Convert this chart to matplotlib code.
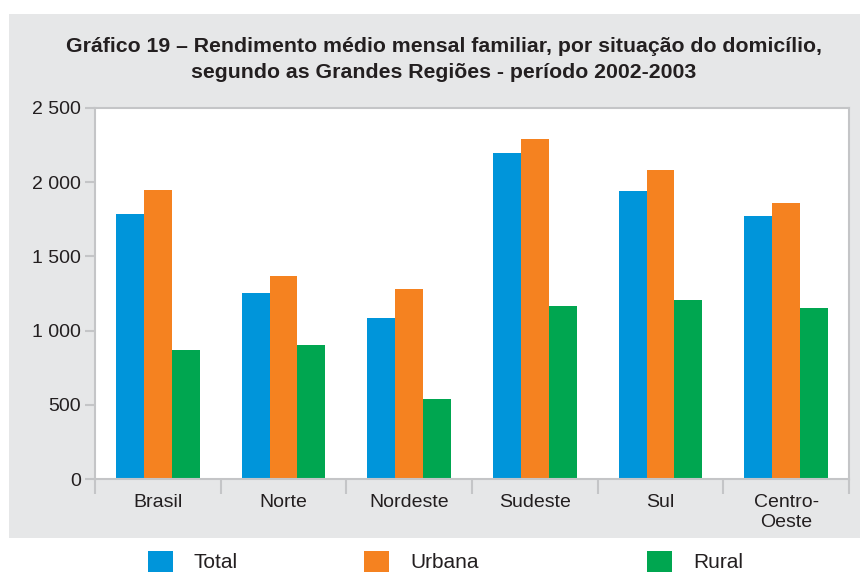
import matplotlib
matplotlib.use("Agg")
import matplotlib.pyplot as plt
import numpy as np
from matplotlib.patches import Rectangle
from matplotlib.ticker import FuncFormatter, FixedLocator


REGIONS = ["Brasil", "Norte", "Nordeste", "Sudeste", "Sul", "Centro-\nOeste"]
TOTAL = [1787, 1254, 1086, 2199, 1942, 1774]
URBANA = [1949, 1369, 1281, 2293, 2084, 1861]
RURAL = [870, 904, 540, 1167, 1207, 1153]
SERIES = ["Total", "Urbana", "Rural"]
COLORS = ["#0095DA", "#F58220", "#00A650"]

TEXT = "#231F20"
FRAME = "#C4C5C7"
PANEL = "#E6E7E8"

plt.rcParams["font.family"] = ["Liberation Sans", "DejaVu Sans"]

W, H = 860, 572
fig = plt.figure(figsize=(W / 100, H / 100), dpi=100)

# grey panel behind title and plot
fig.patches.append(Rectangle((9 / W, 1 - 538 / H), 851 / W, 524 / H,
                             transform=fig.transFigure, facecolor=PANEL,
                             edgecolor="none", zorder=-1))

ax = fig.add_axes([95 / W, 1 - 479 / H, (849 - 95) / W, (479 - 108) / H])
ax.set_zorder(2)
ax.set_facecolor("white")

x = np.arange(len(REGIONS))
bw = 0.222
for i, (vals, color) in enumerate(zip([TOTAL, URBANA, RURAL], COLORS)):
    ax.bar(x + (i - 1) * bw, vals, width=bw, color=color, linewidth=0)

ax.set_xlim(-0.5, len(REGIONS) - 0.5)
ax.set_ylim(0, 2500)
ax.set_yticks([0, 500, 1000, 1500, 2000, 2500])
ax.yaxis.set_major_formatter(FuncFormatter(lambda v, p: f"{int(v):,}".replace(",", " ")))

ax.set_xticks(x)
ax.set_xticklabels(REGIONS)
ax.xaxis.set_minor_locator(FixedLocator(np.arange(-0.5, len(REGIONS), 1.0)))
ax.tick_params(axis="x", which="major", length=0, pad=11, labelsize=14, colors=TEXT)
ax.tick_params(axis="x", which="minor", length=11, width=1.5, color=FRAME)
ax.tick_params(axis="y", length=7, width=1.5, color=FRAME, pad=3,
               labelsize=14, labelcolor=TEXT)

for s in ax.spines.values():
    s.set_color(FRAME)
    s.set_linewidth(1.5)

fig.text(444 / W, 1 - 47 / H,
         "Gráfico 19 – Rendimento médio mensal familiar, por situação do domicílio,",
         ha="center", va="center", fontsize=15.3, fontweight="bold", color=TEXT)
fig.text(444 / W, 1 - 72 / H,
         "segundo as Grandes Regiões - período 2002-2003",
         ha="center", va="center", fontsize=15.3, fontweight="bold", color=TEXT)

# legend below the panel
legend_x = [148, 364, 647]
for lx, name, color in zip(legend_x, SERIES, COLORS):
    fig.patches.append(Rectangle((lx / W, 1 - 573 / H), 25 / W, 22 / H,
                                 transform=fig.transFigure, facecolor=color,
                                 edgecolor="none"))
    fig.text((lx + 46) / W, 1 - 563 / H, name, ha="left", va="center",
             fontsize=15, color=TEXT)

fig.savefig("out.png", dpi=100)
